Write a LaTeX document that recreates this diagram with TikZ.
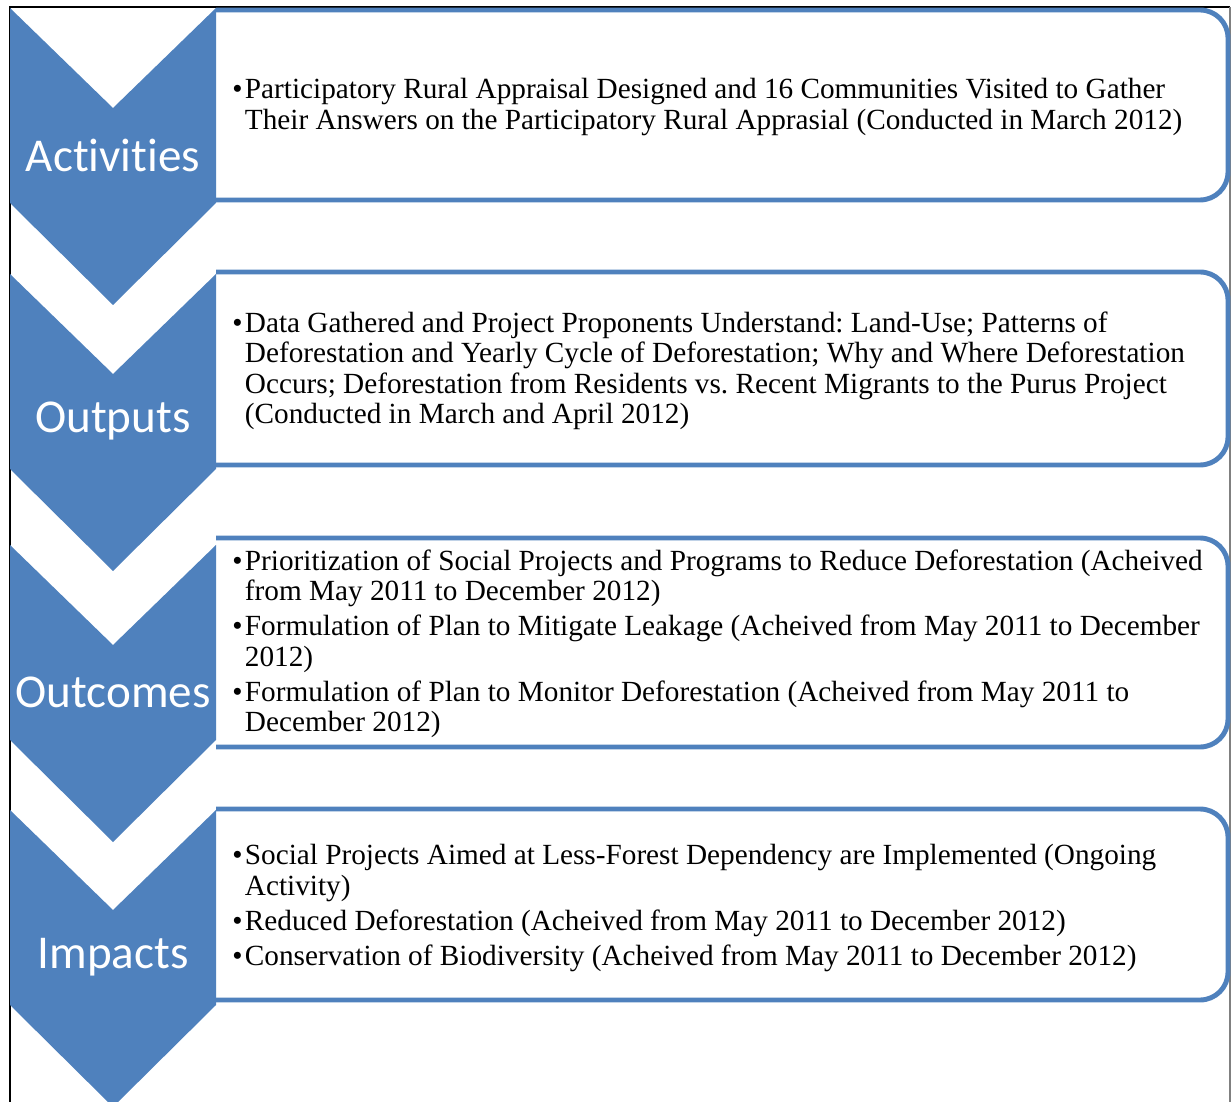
\documentclass[tikz,border=0pt]{standalone}
\usepackage{fontspec}
\setmainfont{Liberation Serif}
\newfontfamily\stagefont[Ligatures=NoCommon]{Carlito}
\definecolor{chevblue}{HTML}{4F81BD}
\frenchspacing

\tikzset{
  chevron/.style={fill=chevblue},
  stagebox/.style={draw=chevblue, line width=3.5pt, fill=white},
  stagelabel/.style={text=white, inner sep=0pt, font=\stagefont\fontsize{33.5}{40}\selectfont},
  itemtext/.style={anchor=west, inner sep=0pt, align=left, font=\fontsize{20.8}{21.4}\selectfont}
}
\newcommand{\bul}{\makebox[9pt][l]{\textbullet}}

\begin{document}
\begin{tikzpicture}[x=0.025cm, y=-0.025cm]
\useasboundingbox (0,0) rectangle (1231,1102);
% frame of the page
\draw[line width=1.5pt] (10,1102) -- (10,7) -- (1230,7);
\draw[gray, line width=0.8pt] (1230,7) -- (1230,1102);

% text boxes, round on the right
\foreach \ta/\tb in {10/200, 272/465, 538/747, 809/1000}
  \draw[stagebox] (216,\ta) -- (1200,\ta) arc (-90:0:28) -- (1228,{\tb-28})
    arc (0:90:28) -- (216,\tb);

% chevrons
\foreach \t/\nm/\lab in {8/act/Activities, 274/outp/Outputs, 545/outc/Outcomes, 810/imp/Impacts} {
  \fill[chevron] (10,\t) -- (113,{\t+100}) -- (216,\t) -- (216,{\t+195})
    -- (113,{\t+297}) -- (10,{\t+195}) -- cycle;
  \node[stagelabel] (\nm) at (113,{\t+147}) {\lab};
}

\node[itemtext] (acttext) at (232,108) {\begin{tabular}{@{}l@{}l@{}}
\bul & Participatory Rural Appraisal Designed and 16 Communities Visited to Gather\\
     & Their Answers on the Participatory Rural Apprasial (Conducted in March 2012)
\end{tabular}};

\node[itemtext] (outptext) at (232,372) {\begin{tabular}{@{}l@{}l@{}}
\bul & Data Gathered and Project Proponents Understand: Land-Use; Patterns of\\
     & Deforestation and Yearly Cycle of Deforestation; Why and Where Deforestation\\
     & Occurs; Deforestation from Residents vs. Recent Migrants to the Purus Project\\
     & (Conducted in March and April 2012)
\end{tabular}};

\node[itemtext] (outctext) at (232,645) {\begin{tabular}{@{}l@{}l@{}}
\bul & Prioritization of Social Projects and Programs to Reduce Deforestation (Acheived\\
     & from May 2011 to December 2012)\\[3.5pt]
\bul & Formulation of Plan to Mitigate Leakage (Acheived from May 2011 to December\\
     & 2012)\\[3.5pt]
\bul & Formulation of Plan to Monitor Deforestation (Acheived from May 2011 to\\
     & December 2012)
\end{tabular}};

\node[itemtext] (imptext) at (232,909) {\begin{tabular}{@{}l@{}l@{}}
\bul & Social Projects Aimed at Less-Forest Dependency are Implemented (Ongoing\\
     & Activity)\\[3.5pt]
\bul & Reduced Deforestation (Acheived from May 2011 to December 2012)\\[3.5pt]
\bul & Conservation of Biodiversity (Acheived from May 2011 to December 2012)
\end{tabular}};
\end{tikzpicture}
\end{document}
